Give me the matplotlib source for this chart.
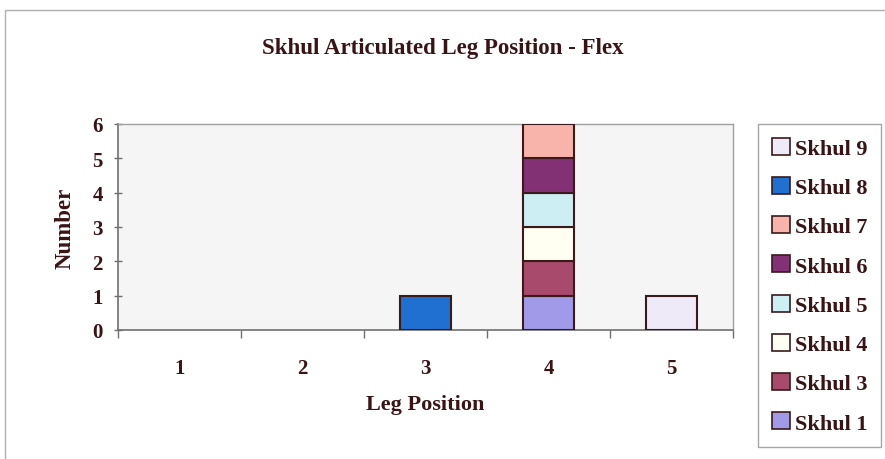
import matplotlib.pyplot as plt
from matplotlib.patches import Rectangle, Patch
import numpy as np

plt.rcParams['font.family'] = ['Liberation Serif', 'DejaVu Serif']

positions = ['1', '2', '3', '4', '5']
series_names = ['Skhul 1', 'Skhul 3', 'Skhul 4', 'Skhul 5', 'Skhul 6', 'Skhul 7', 'Skhul 8', 'Skhul 9']
skhul_1 = [0, 0, 0, 1, 0]
skhul_3 = [0, 0, 0, 1, 0]
skhul_4 = [0, 0, 0, 1, 0]
skhul_5 = [0, 0, 0, 1, 0]
skhul_6 = [0, 0, 0, 1, 0]
skhul_7 = [0, 0, 0, 1, 0]
skhul_8 = [0, 0, 1, 0, 0]
skhul_9 = [0, 0, 0, 0, 1]
series_values = [skhul_1, skhul_3, skhul_4, skhul_5, skhul_6, skhul_7, skhul_8, skhul_9]
series_colors = ['#a09ae8', '#a84a6c', '#fffff2', '#cdeff4', '#823274', '#f8b4aa', '#1f70d0', '#efeaf8']

text_color = '#3a1414'
edge_color = '#3a1a1a'

fig = plt.figure(figsize=(8.85, 4.6), dpi=100)
fig.patch.set_facecolor('white')

# outer chart frame (runs off the right and bottom edges)
fig.add_artist(Rectangle((5 / 885, -0.05), 0.99 + 0.05, 1 - 11 / 460 + 0.05, transform=fig.transFigure,
                         fill=False, edgecolor='#b0b0b0', linewidth=1.0))

ax = fig.add_axes([118 / 885, 1 - 331 / 460, 615 / 885, 206 / 460])
ax.set_facecolor('#f5f5f5')

x = np.arange(len(positions))
bottom = np.zeros(len(positions))
for name, vals, col in zip(series_names, series_values, series_colors):
    vals = np.array(vals, dtype=float)
    mask = vals > 0
    ax.bar(x[mask], vals[mask], width=0.41, bottom=bottom[mask], color=col,
           edgecolor=edge_color, linewidth=1.5, label=name, zorder=3)
    bottom += vals

ax.set_xlim(-0.5, len(positions) - 0.5)
ax.set_ylim(0, 6)
ax.set_yticks(range(0, 7))
ax.set_xticks(x)
ax.set_xticklabels(positions)
ax.set_xticks(np.arange(-0.5, len(positions), 1.0), minor=True)
ax.tick_params(axis='x', which='major', length=0, pad=20, labelsize=15, labelcolor=text_color)
ax.tick_params(axis='x', which='minor', length=6, direction='out', color='#707070', width=1.0)
ax.tick_params(axis='y', length=6, direction='inout', color='#707070', width=1.0,
               labelsize=15, labelcolor=text_color, pad=8)
for lbl in ax.get_xticklabels() + ax.get_yticklabels():
    lbl.set_fontweight('bold')

for side in ['top', 'right']:
    ax.spines[side].set_color('#a0a0a0')
    ax.spines[side].set_linewidth(1.0)
for side in ['left', 'bottom']:
    ax.spines[side].set_color('#707070')
    ax.spines[side].set_linewidth(1.2)

ax.set_xlabel('Leg Position', fontsize=16, fontweight='bold', color=text_color, labelpad=12)
ax.set_ylabel('Number', fontsize=16.5, fontweight='bold', color=text_color, labelpad=12)

fig.text(0.5, 1 - 49 / 460, 'Skhul Articulated Leg Position - Flex', ha='center', va='center',
         fontsize=16.5, fontweight='bold', color=text_color)

handles = [Patch(facecolor=c, edgecolor=edge_color, linewidth=1.2, label=n)
           for n, c in zip(series_names, series_colors)][::-1]
leg = fig.legend(handles=handles, loc='upper left', bbox_to_anchor=(758 / 885, 1 - 125 / 460),
                 frameon=True, fancybox=False, edgecolor='#909090', handlelength=0.8,
                 handleheight=0.8, handletextpad=0.25, labelspacing=0.81, borderpad=0.62,
                 borderaxespad=0, prop={'weight': 'bold', 'size': 16})
leg.get_frame().set_linewidth(1.0)
for t in leg.get_texts():
    t.set_color(text_color)

fig.savefig('out.png', dpi=100, facecolor='white')
